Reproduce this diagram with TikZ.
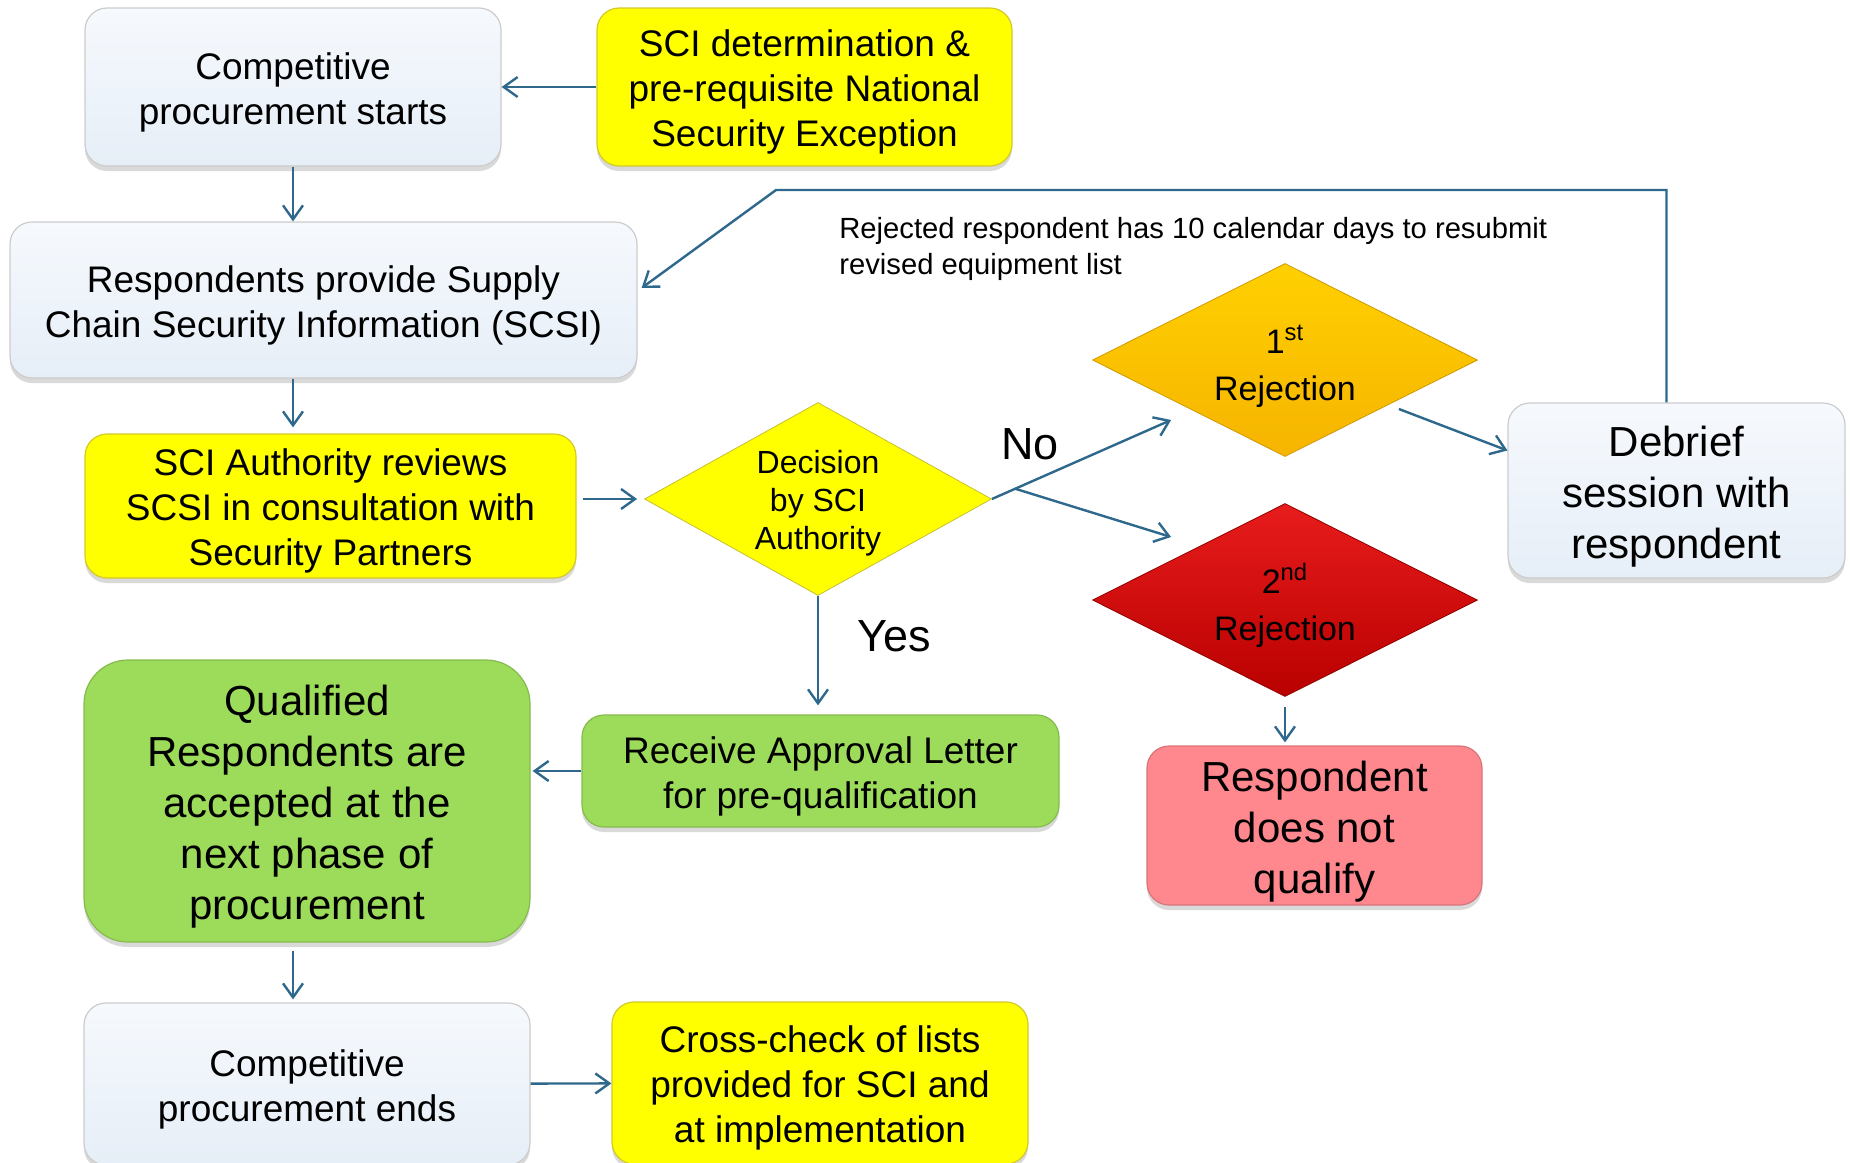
\documentclass[tikz,border=0pt]{standalone}
\usepackage{fontspec}
\setmainfont{Liberation Sans}
\usetikzlibrary{shapes.geometric,arrows.meta,calc,positioning,shadows}

\definecolor{flowblue}{RGB}{46,104,140}
\definecolor{paleblue}{RGB}{230,238,247}
\definecolor{palebluetop}{RGB}{246,249,253}
\definecolor{boxyellow}{RGB}{255,255,0}
\definecolor{boxgreen}{RGB}{156,220,90}
\definecolor{boxpink}{RGB}{255,136,142}
\definecolor{goldtop}{RGB}{255,208,0}
\definecolor{goldbot}{RGB}{246,180,0}
\definecolor{redtop}{RGB}{232,28,28}
\definecolor{redbot}{RGB}{185,0,0}

% taller first line, so the text sits a little lower in its shape
\newcommand{\padtop}[1][1]{\rule{0pt}{#1em}}

\tikzset{
  box/.style={rounded corners=11pt, inner sep=0pt, align=center, line width=0.6pt,
    font=\fontsize{18.5}{22.5}\selectfont,
    drop shadow={shadow xshift=0pt, shadow yshift=-2.5pt, opacity=0.3}},
  bigtext/.style={font=\fontsize{21}{25.5}\selectfont},
  bluebox/.style={box, draw=gray!40, top color=palebluetop, bottom color=paleblue},
  yellowbox/.style={box, draw=yellow!80!black, fill=boxyellow},
  greenbox/.style={box, draw=boxgreen!85!black, fill=boxgreen},
  pinkbox/.style={box, draw=boxpink!85!black, fill=boxpink},
  choice/.style={diamond, aspect=1.8, inner sep=0pt, align=center, line width=0.4pt,
    draw=yellow!75!black, fill=boxyellow, font=\fontsize{16}{19}\selectfont,
    minimum width=173.5pt, minimum height=96.5pt},
  rejection/.style={diamond, aspect=2, inner sep=0pt, align=center, line width=0.4pt,
    font=\fontsize{17}{23.5}\selectfont, minimum width=192.5pt, minimum height=96.5pt}
}

\begin{document}
\begin{tikzpicture}[x=0.5pt, y=-0.5pt,
    flow/.style={draw=flowblue, line width=1.2pt, -{Straight Barb[length=7pt, width=10pt]}}]
  \useasboundingbox (0,0) rectangle (1850,1162);

  % start of the procurement
  \node[bluebox, minimum width=208pt, minimum height=79pt] (comp_start) at (293,87) {\padtop Competitive\\procurement starts};
  \node[yellowbox, minimum width=207.5pt, minimum height=79pt] (sci_det) at (804.5,87) {\padtop SCI determination \&\\pre-requisite National\\Security Exception};
  \node[bluebox, minimum width=313.5pt, minimum height=78pt] (supply_info) at (323.5,300) {\padtop Respondents provide Supply\\Chain Security Information (SCSI)};
  \node[yellowbox, minimum width=245.5pt, minimum height=72pt] (sci_review) at (330.5,506) {\padtop SCI Authority reviews\\SCSI in consultation with\\Security Partners};

  % decision and the two rejections
  \node[choice] (decision) at (818,499) {\padtop Decision\\by SCI\\Authority};
  \node[rejection, draw=goldbot!85!black, top color=goldtop, bottom color=goldbot] (first_rej) at (1285,360) {\padtop[1.2]1\textsuperscript{st}\\Rejection};
  \node[rejection, draw=redbot!80!black, top color=redtop, bottom color=redbot] (second_rej) at (1285,600) {\padtop[1.2]2\textsuperscript{nd}\\Rejection};
  \node[bluebox, bigtext, minimum width=168.5pt, minimum height=87.5pt] (debrief) at (1676.5,490.5) {\padtop Debrief\\session with\\respondent};
  \node[pinkbox, bigtext, minimum width=167.5pt, minimum height=79.5pt] (not_qual) at (1314.5,825.5) {\padtop Respondent\\does not\\qualify};

  % approval and end of the procurement
  \node[greenbox, minimum width=238.5pt, minimum height=56pt] (approval) at (820.5,771) {\padtop Receive Approval Letter\\for pre-qualification};
  \node[greenbox, bigtext, rounded corners=22pt, minimum width=223pt, minimum height=141pt] (qualified) at (307,801) {\padtop Qualified\\Respondents are\\accepted at the\\next phase of\\procurement};
  \node[bluebox, minimum width=223pt, minimum height=81pt] (comp_end) at (307,1084) {\padtop Competitive\\procurement ends};
  \node[yellowbox, minimum width=208pt, minimum height=81pt] (cross_check) at (820,1083) {\padtop Cross-check of lists\\provided for SCI and\\at implementation};

  % labels
  \node[font=\fontsize{22.5}{27}\selectfont] (no_lbl) at (1030,444) {No};
  \node[font=\fontsize{22.5}{27}\selectfont] (yes_lbl) at (894,636) {Yes};
  \node[anchor=west, align=left, inner sep=0pt, font=\fontsize{14.6}{17.7}\selectfont] (resubmit_note) at (839,249) {Rejected respondent has 10 calendar days to resubmit\\revised equipment list};

  % connectors
  \foreach \a/\b in {sci_det/comp_start, comp_end/cross_check}
    \draw[flow] (\a) -- (\b);
  \draw[flow] (comp_start.south) -- (comp_start.south |- supply_info.north);
  \draw[flow, shorten >=3pt] (supply_info.south -| comp_start.south) -- (sci_review.north -| comp_start.south);
  \draw[flow, shorten <=3pt, shorten >=3.5pt] (sci_review.east |- decision) -- (decision.west);

  \coordinate (no_first) at ([shift={(79,60)}]first_rej.west);
  \coordinate (no_second) at ([shift={(79,-63)}]second_rej.west);
  \coordinate (no_fork) at ($(decision.east)!0.13!(no_first)$);
  \draw[flow] (decision.east) -- (no_first);
  \draw[flow] (no_fork) -- (no_second);
  \draw[flow, shorten >=4.5pt] (decision.south) -- (decision.south |- approval.north);

  \draw[flow] ([shift={(-79,49)}]first_rej.east) -- ([shift={(0,-40)}]debrief.west);
  \coordinate (loop_bend) at (776,190);
  \draw[flow] ([shift={(-10,0)}]debrief.north) |- (loop_bend) -- ([shift={(4,-12)}]supply_info.east);

  \draw[flow, shorten <=5pt, shorten >=1.5pt] (second_rej.south) -- (second_rej.south |- not_qual.north);
  \draw[flow, shorten >=1pt] (approval.west) -- (approval.west -| qualified.east);
  \draw[flow, shorten <=4pt, shorten >=1.5pt] (qualified.south -| comp_start.south) -- (comp_end.north -| comp_start.south);
\end{tikzpicture}
\end{document}
